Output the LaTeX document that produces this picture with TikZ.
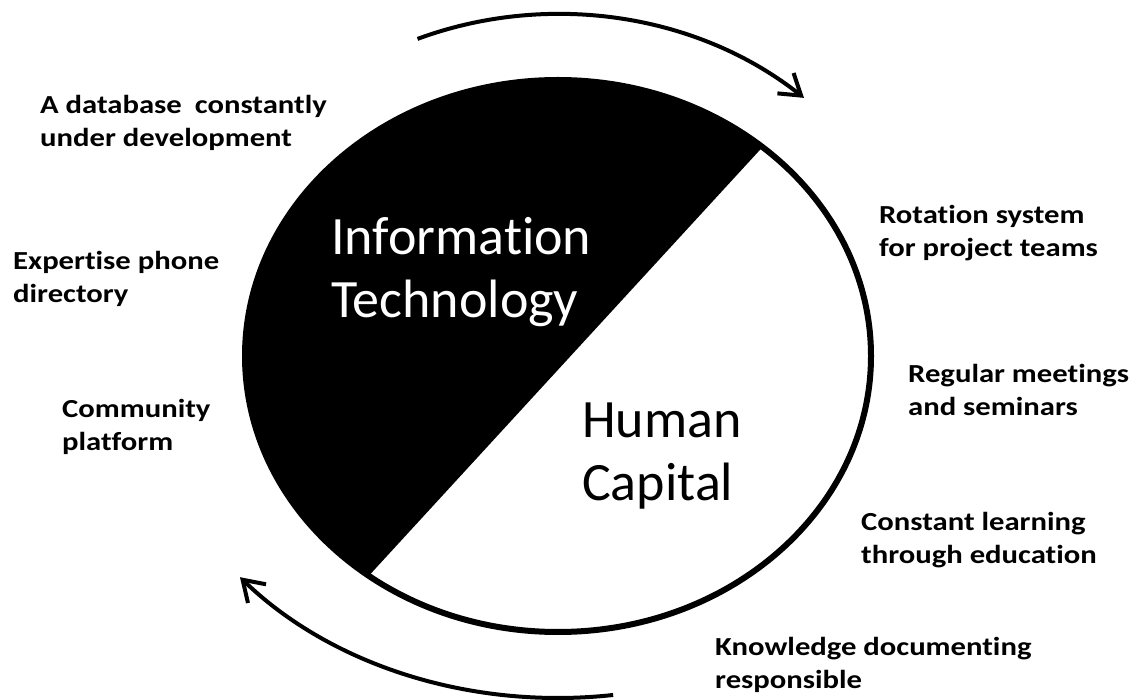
\documentclass[tikz,border=0pt]{standalone}
\usepackage{fontspec}
\setmainfont{Carlito}[Ligatures=NoCommon]
\newfontfamily\labelfont{Carlito}[FakeStretch=1.18, Ligatures=NoCommon]
\usetikzlibrary{arrows.meta}
\begin{document}
\begin{tikzpicture}[x=1pt,y=-1pt,
  % multi-line nodes: the base anchor sits on the baseline of the last line
  item/.style={anchor=base west, inner sep=0pt, align=left,
    font=\labelfont\bfseries\fontsize{26}{33}\selectfont},
  title/.style={anchor=base west, inner sep=0pt, align=left,
    font=\fontsize{54}{63}\selectfont},
  cycarrow/.style={line width=4pt,
    -{Straight Barb[length=20pt,width=26pt,line width=4pt]}}]
\useasboundingbox (0,0) rectangle (1136,700);
\coordinate (c) at (558,356);

% dark half of the ellipse, cut off by a chord
\fill (c) ++(-49.2:313 and 276)
  arc[start angle=-49.2, end angle=-232.8, x radius=313, y radius=276] -- cycle;
\draw[line width=6pt] (c) ellipse[x radius=313, y radius=276];

% cycle arrows around the ellipse
\draw[cycarrow] (c) ++(-112:375 and 342)
  arc[start angle=-112, end angle=-49, x radius=375, y radius=342];
\draw[cycarrow] (c) ++(82.4:417 and 342)
  arc[start angle=82.4, end angle=139.7, x radius=417, y radius=342];

% the two halves
\node[title, text=white] (it) at (331,318) {Information\\Technology};
\node[title] (hc) at (582,501) {Human\\Capital};

% measures on the technology side
\node[item] (db) at (40,147) {A database\hspace{0.5em}constantly\\under development};
\node[item] (phone) at (13,303) {Expertise phone\\directory};
\node[item] (comm) at (62,451) {Community\\platform};

% measures on the human side
\node[item] (rot) at (879,257) {Rotation system\\for project teams};
\node[item] (meet) at (908,416) {Regular meetings\\and seminars};
\node[item] (learn) at (861,563) {Constant learning\\through education};
\node[item] (doc) at (715,688) {Knowledge documenting\\responsible};
\end{tikzpicture}
\end{document}
